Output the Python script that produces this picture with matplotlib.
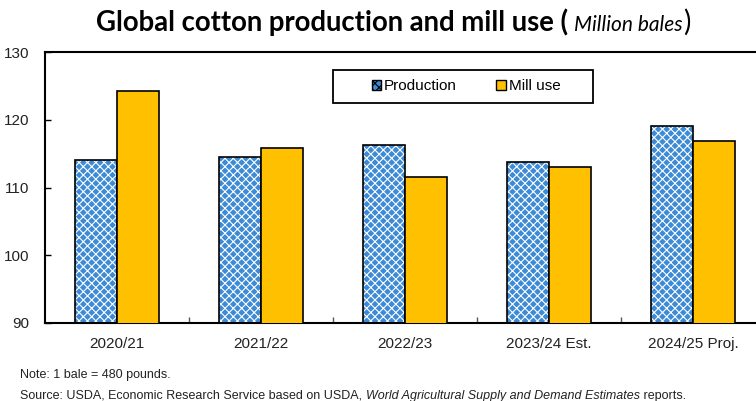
import matplotlib
matplotlib.use("Agg")
import matplotlib.pyplot as plt
from matplotlib.patches import Patch, Rectangle
import numpy as np

categories = ["2020/21", "2021/22", "2022/23", "2023/24 Est.", "2024/25 Proj."]
production = [114.1, 114.5, 116.3, 113.8, 119.1]
mill_use = [124.2, 115.8, 111.5, 113.0, 116.9]
y_ticks = [90, 100, 110, 120, 130]

blue = "#3d8ad6"
gold = "#ffc000"

plt.rcParams["font.family"] = ["Liberation Sans", "DejaVu Sans"]
plt.rcParams["hatch.linewidth"] = 0.8

fig = plt.figure(figsize=(7.56, 4.01), dpi=100)
W, H = 756, 401
ax_left, ax_right, ax_top, ax_bot = 45, 765, 52, 323
ax = fig.add_axes([ax_left / W, 1 - ax_bot / H, (ax_right - ax_left) / W, (ax_bot - ax_top) / H])

x = np.arange(len(categories))
bw = 0.29
ax.bar(x - bw / 2, production, bw, color=blue, edgecolor="white",
       hatch="xxxx", linewidth=0, zorder=2)
ax.bar(x - bw / 2, production, bw, fill=False, edgecolor="black", linewidth=1.2, zorder=3)
ax.bar(x + bw / 2, mill_use, bw, color=gold, edgecolor="black", linewidth=1.2, zorder=3)

ax.set_ylim(90, 130)
ax.set_xlim(-0.5, len(categories) - 0.5)
ax.set_yticks(y_ticks)
ax.set_yticklabels([str(v) for v in y_ticks], fontsize=11, color="#222222")
ax.set_xticks(x)
ax.set_xticklabels(categories, fontsize=11, color="#222222")
ax.tick_params(axis="x", length=0, pad=10)
ax.tick_params(axis="y", direction="in", length=4, pad=11, width=1)
ax.set_xticks(np.arange(len(categories) - 1) + 0.5, minor=True)
ax.tick_params(axis="x", which="minor", direction="in", length=4, width=1, color="#555555")
for s in ["left", "bottom", "top"]:
    ax.spines[s].set_linewidth(1.5)
ax.spines["right"].set_visible(False)

# legend frame drawn separately (pixel box 333-593 x 70-103)
def px2ax(px, py):
    return ((px - ax_left) / (ax_right - ax_left), (ax_bot - py) / (ax_bot - ax_top))

x0, y0 = px2ax(333, 103)
x1, y1 = px2ax(593, 70)
ax.add_patch(Rectangle((x0, y0), x1 - x0, y1 - y0, transform=ax.transAxes,
                       facecolor="white", edgecolor="black", linewidth=1.3, zorder=4))

handles = [Patch(facecolor=blue, edgecolor="black", hatch="xxxx", linewidth=1.0),
           Patch(facecolor=gold, edgecolor="black", linewidth=1.0)]
lc = px2ax(466, 86.5)
leg = ax.legend(handles, ["Production", "Mill use"], loc="center",
                bbox_to_anchor=lc, ncol=2, fontsize=11,
                frameon=False,
                handlelength=0.6, handleheight=0.6, handletextpad=0.2,
                columnspacing=2.6, borderpad=0.2, borderaxespad=0)
leg.set_zorder(5)

fig.canvas.draw()
r = fig.canvas.get_renderer()
t1 = fig.text(0, 0, "Global cotton production and mill use ( ", fontsize=19.8,
              fontweight="bold", family=["Lato", "DejaVu Sans"])
t2 = fig.text(0, 0, "Million bales", fontsize=15, style="italic",
              family=["Lato", "DejaVu Sans"])
t3 = fig.text(0, 0, ")", fontsize=19.8, family=["Lato", "DejaVu Sans"])
ws = [t.get_window_extent(r).width for t in (t1, t2, t3)]
total = sum(ws)
cx = 393
xs = cx - total / 2
yb = 1 - 31 / H
for t, w in zip((t1, t2, t3), ws):
    t.set_position((xs / W, yb))
    t.set_va("baseline")
    xs += w

fig.text(20 / W, 1 - 378 / H, "Note: 1 bale = 480 pounds.", fontsize=9, color="#222222")
s1 = fig.text(20 / W, 1 - 399 / H, "Source: USDA, Economic Research Service based on USDA, ",
              fontsize=9, color="#222222")
fig.canvas.draw()
w1 = s1.get_window_extent(r).width
s2 = fig.text((20 + w1) / W, 1 - 399 / H, "World Agricultural Supply and Demand Estimates",
              fontsize=9, style="italic", color="#222222")
w2 = s2.get_window_extent(r).width
fig.text((20 + w1 + w2) / W, 1 - 399 / H, " reports.", fontsize=9, color="#222222")

fig.savefig("out.png", dpi=100)
